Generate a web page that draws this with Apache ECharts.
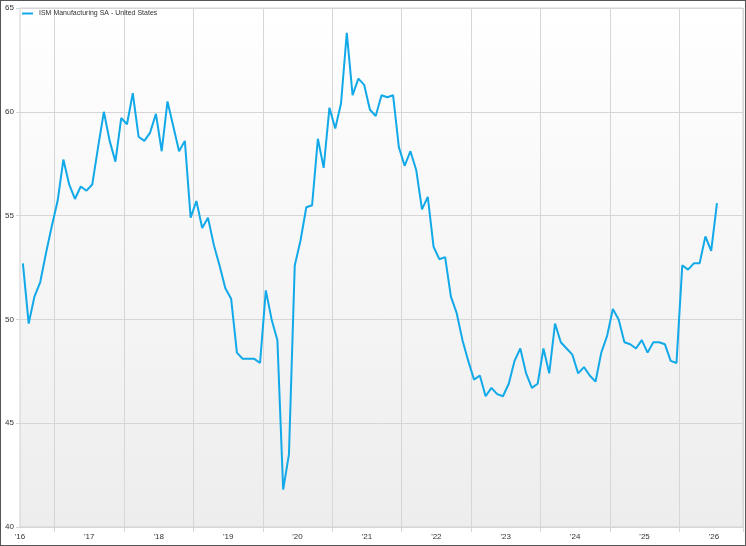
<html>
<head>
<meta charset="utf-8">
<title>ISM Manufacturing SA - United States</title>
<script src="https://cdn.jsdelivr.net/npm/echarts@6/dist/echarts.min.js"></script>
<style>
  html, body { margin: 0; padding: 0; background: #fff; }
  #chart { width: 746px; height: 546px; box-sizing: border-box; border: 1px solid #555; }
</style>
</head>
<body>
<div id="chart"></div>
<script>
// monthly readings, Jul 2016 onwards
var seriesName = 'ISM Manufacturing SA - United States';
var startYear = 2016, startMonth = 7;
var monthCount = 125;   // axis runs to Nov 2026
var ism = [
  52.7, 49.8, 51.1, 51.8, 53.2, 54.5,
  55.7, 57.7, 56.5, 55.8, 56.4, 56.2, 56.5, 58.3, 60.0, 58.6, 57.6, 59.7,
  59.4, 60.9, 58.8, 58.6, 59.0, 59.9, 58.1, 60.5, 59.3, 58.1, 58.6, 54.9,
  55.7, 54.4, 54.9, 53.6, 52.6, 51.5, 51.0, 48.4, 48.1, 48.1, 48.1, 47.9,
  51.4, 50.0, 49.0, 41.8, 43.5, 52.6, 53.8, 55.4, 55.5, 58.7, 57.3, 60.2,
  59.2, 60.4, 63.8, 60.8, 61.6, 61.3, 60.1, 59.8, 60.8, 60.7, 60.8, 58.3,
  57.4, 58.1, 57.2, 55.3, 55.9, 53.5, 52.9, 53.0, 51.1, 50.3, 49.0, 48.0,
  47.1, 47.3, 46.3, 46.7, 46.4, 46.3, 46.9, 48.0, 48.6, 47.4, 46.7, 46.9,
  48.6, 47.4, 49.8, 48.9, 48.6, 48.3, 47.4, 47.7, 47.3, 47.0, 48.4, 49.2,
  50.5, 50.0, 48.9, 48.8, 48.6, 49.0, 48.4, 48.9, 48.9, 48.8, 48.0, 47.9,
  52.6, 52.4, 52.7, 52.7, 54.0, 53.3, 55.6
];
var yTicks = [40, 45, 50, 55, 60, 65];

var months = [];
for (var i = 0; i < monthCount; i++) {
    var m = startMonth - 1 + i;
    var y = startYear + Math.floor(m / 12);
    var mm = (m % 12) + 1;
    months.push(y + '-' + (mm < 10 ? '0' + mm : mm));
}
function isMonth(value, mm) { return value.slice(5) === mm; }

var chart = echarts.init(document.getElementById('chart'));
var gridColor = '#d6d6d6';
var option = {
    animation: false,
    textStyle: { fontFamily: 'Liberation Sans, Arial, sans-serif' },
    grid: {
        left: 19, top: 7, right: 2, bottom: 18,
        show: true,
        borderColor: '#d0d0d0',
        backgroundColor: new echarts.graphic.LinearGradient(0, 0, 0, 1, [
            { offset: 0, color: '#ffffff' },
            { offset: 1, color: '#ededed' }
        ])
    },
    legend: {
        left: 21, top: 9, padding: 0,
        icon: 'rect', itemWidth: 11, itemHeight: 2, itemGap: 4,
        textStyle: { fontSize: 7, color: '#333', padding: [0, 0, 0, 1] },
        data: [seriesName]
    },
    xAxis: {
        type: 'category',
        data: months,
        boundaryGap: true,
        axisLine: { show: false },
        axisTick: {
            show: true, length: 5,
            interval: function (idx, value) { return isMonth(value, '01'); },
            lineStyle: { color: gridColor }
        },
        axisLabel: {
            fontSize: 8, color: '#333', margin: 6,
            padding: [0, 6, 0, 0],
            interval: function (idx, value) { return isMonth(value, '07'); },
            formatter: function (value) { return "'" + value.slice(2, 4); }
        },
        splitLine: {
            show: true,
            interval: function (idx, value) { return isMonth(value, '01'); },
            lineStyle: { color: gridColor, width: 1 }
        }
    },
    yAxis: {
        type: 'value',
        min: yTicks[0], max: yTicks[yTicks.length - 1], interval: 5,
        axisLine: { show: false },
        axisTick: { show: true, length: 4, lineStyle: { color: gridColor } },
        axisLabel: { fontSize: 8, color: '#333', margin: 6 },
        splitLine: { lineStyle: { color: gridColor } }
    },
    series: [{
        name: seriesName,
        type: 'line',
        data: ism,
        symbol: 'none',
        lineStyle: { color: '#12a9e9', width: 2 },
        itemStyle: { color: '#12a9e9' }
    }]
};
chart.setOption(option);
</script>
</body>
</html>
